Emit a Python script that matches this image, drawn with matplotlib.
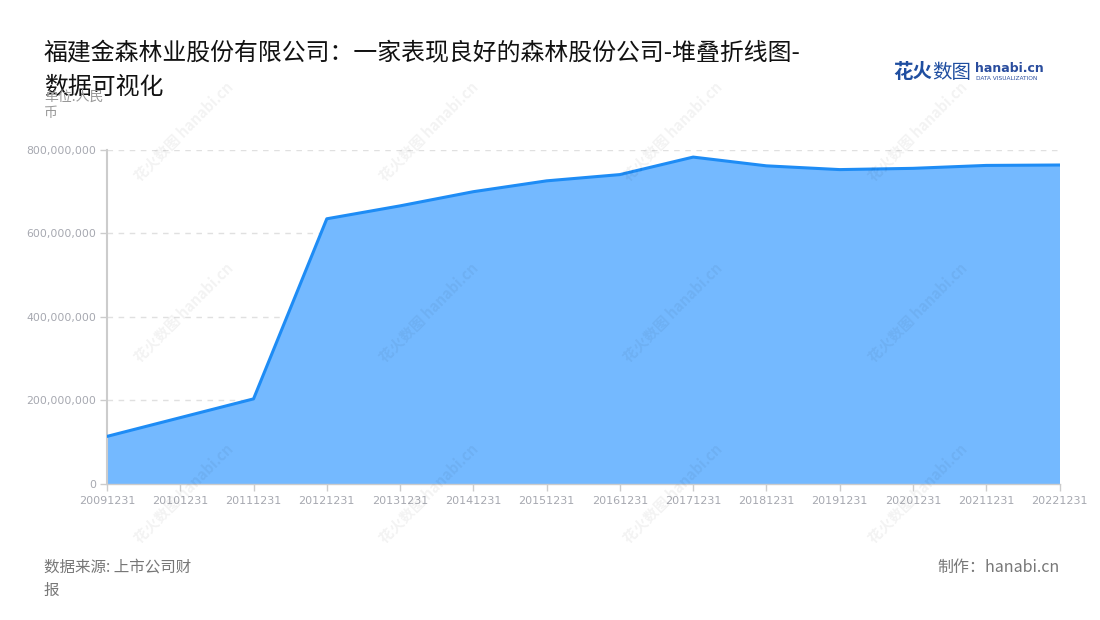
import matplotlib
matplotlib.use("Agg")
import matplotlib.pyplot as plt
from matplotlib.ticker import FuncFormatter

plt.rcParams['font.family'] = ['Noto Sans CJK SC', 'DejaVu Sans']

# ---- data ----
dates = ["20091231", "20101231", "20111231", "20121231", "20131231", "20141231",
         "20151231", "20161231", "20171231", "20181231", "20191231", "20201231",
         "20211231", "20221231"]
values = [113e6, 158e6, 203e6, 635e6, 666e6, 700e6, 726e6, 741e6, 783e6,
          762e6, 753e6, 756e6, 763e6, 764e6]
yticks = [0, 200e6, 400e6, 600e6, 800e6]

title = "福建金森林业股份有限公司：一家表现良好的森林股份公司-堆叠折线图-\n数据可视化"
unit_label = "单位:人民\n币"
source_label = "数据来源: 上市公司财\n报"
credit_label = "制作：hanabi.cn"

W, H = 1100, 620
fig = plt.figure(figsize=(W / 100, H / 100), dpi=100)
fig.patch.set_facecolor("white")

def fx(px):
    return px / W

def fy(py):
    return 1 - py / H

ax = fig.add_axes([fx(107), fy(483.5), fx(1059.5) - fx(107), fy(150) - fy(483.5)])
x = list(range(len(dates)))
ax.fill_between(x, 0, values, color="#74b9ff", linewidth=0, zorder=2)
ax.plot(x, values, color="#1e8cf5", linewidth=2.2, zorder=3, solid_joinstyle="round")

ax.set_xlim(0, len(dates) - 1)
ax.set_ylim(0, 800e6)
ax.set_xticks(x)
ax.set_xticklabels(dates)
ax.set_yticks(yticks)
ax.yaxis.set_major_formatter(FuncFormatter(lambda v, p: f"{int(v):,}"))

for s in ["top", "right"]:
    ax.spines[s].set_visible(False)
ax.spines["left"].set_color("#cccccc")
ax.spines["left"].set_linewidth(1.5)
ax.spines["bottom"].set_color("#cccccc")
ax.spines["bottom"].set_linewidth(1.0)
ax.tick_params(axis="both", colors="#cccccc", labelcolor="#a6a8b0", length=5, width=1)
ax.tick_params(axis="x", labelsize=8, pad=4)
ax.tick_params(axis="y", labelsize=7.8, pad=3)
for lab in ax.get_xticklabels() + ax.get_yticklabels():
    lab.set_family("DejaVu Sans")
ax.grid(axis="y", color="#e0e0e0", linestyle=(0, (4, 4)), linewidth=1, zorder=1)
ax.set_axisbelow(True)
ax.set_facecolor("none")

# ---- texts ----
fig.text(fx(44), fy(42), title, fontsize=17.2, color="#111111", ha="left", va="top",
         linespacing=1.62)
fig.text(fx(44), fy(90), unit_label, fontsize=10, color="#999999", ha="left", va="top",
         linespacing=1.2)
fig.text(fx(44), fy(559), source_label, fontsize=11.2, color="#777777", ha="left", va="top",
         linespacing=1.45)
fig.text(fx(1060), fy(559), credit_label, fontsize=11.5, color="#777777", ha="right", va="top")

# ---- logo ----
fig.text(fx(893), fy(73), "花火", fontsize=14, fontweight="bold", color="#1f4ea0",
         ha="left", va="center")
fig.text(fx(932), fy(73), "数图", fontsize=14, color="#1f4ea0", ha="left", va="center")
fig.text(fx(975), fy(68), "hanabi.cn", fontsize=9, fontweight="bold", color="#2a4d9e",
         ha="left", va="center", family="DejaVu Sans")
fig.text(fx(976), fy(79), "DATA VISUALIZATION", fontsize=4.2, color="#2a4d9e",
         ha="left", va="center", family="DejaVu Sans")

# ---- watermarks ----
for cy in [131, 312, 493]:
    for cx in [183, 428, 672, 917]:
        fig.text(fx(cx), fy(cy), "花火数图 hanabi.cn", fontsize=10.5, fontweight="bold",
                 color="#000000", alpha=0.05, rotation=45, ha="center", va="center",
                 rotation_mode="anchor", zorder=10)

fig.savefig("out.png", dpi=100)
